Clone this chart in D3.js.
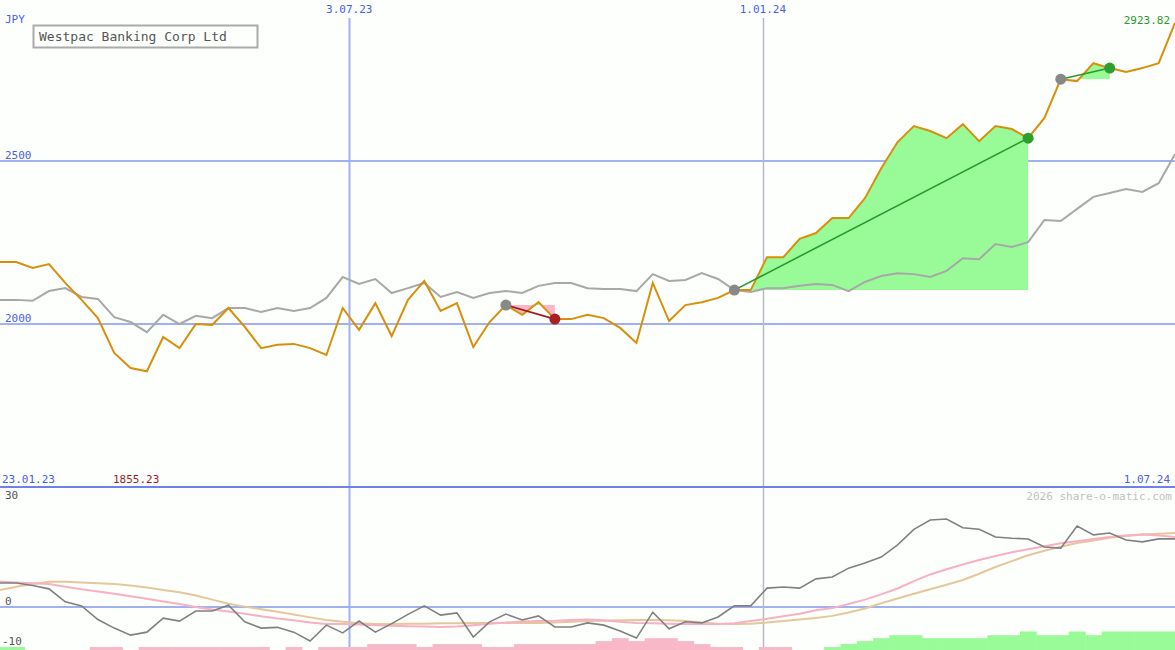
<!DOCTYPE html>
<html><head><meta charset="utf-8">
<script src="https://cdn.jsdelivr.net/npm/d3@7"></script>
<style>body{margin:0;background:#fcfffc}svg{display:block}text{font-family:"DejaVu Sans Mono",monospace;font-size:11px}</style>
</head><body><svg id="c" width="1175" height="650"></svg>
<script>
const price=[2190,2190,2172,2184,2126,2074,2018,1911,1865,1855,1960,1926,2000,1997,2049,1991,1926,1936,1939,1926,1905,2049,1982,2064,1963,2074,2132,2040,2064,1929,2006,2058,2028,2067,2015,2015,2028,2018,1988,1942,2126,2009,2058,2067,2080,2104,2104,2205,2205,2261,2279,2325,2325,2386,2478,2558,2607,2592,2570,2613,2561,2607,2598,2570,2632,2751,2745,2800,2785,2773,2785,2800,2924];
const avg=[2074,2074,2071,2101,2110,2083,2077,2021,2006,1975,2028,2000,2025,2018,2049,2049,2037,2049,2040,2049,2080,2144,2123,2138,2095,2110,2126,2083,2098,2080,2095,2101,2095,2117,2126,2126,2110,2107,2107,2101,2153,2132,2135,2156,2138,2104,2098,2110,2110,2117,2123,2120,2101,2129,2147,2156,2153,2144,2163,2202,2199,2245,2236,2251,2319,2316,2353,2390,2402,2414,2405,2432,2521];
const macd=[6.5,6.5,5.8,4.9,1.4,0.3,-3.4,-5.7,-7.6,-6.8,-3,-3.8,-1.1,-1.1,0.5,-4,-5.7,-5.5,-6.8,-9.2,-4.9,-7,-3.8,-6.8,-4.5,-2,0.3,-2.2,-1.6,-8.1,-4,-1.9,-3.5,-2.4,-5.4,-5.4,-4.3,-4.9,-6.5,-8.4,-1.4,-5.9,-4,-4.3,-2.7,0.3,0.3,5.1,5.4,5.1,7.6,8.1,10.5,11.9,13.5,16.8,21,23.5,23.8,21.4,21,18.9,18.6,18.4,16.2,15.9,21.9,19.5,20,18.1,17.6,18.4,18.4];
const signal=[6.8,6.6,6.4,6.2,5.5,4.8,4.2,3.6,2.9,2.2,1.5,0.8,0,-0.7,-1.2,-1.8,-2.5,-3.1,-3.6,-4.2,-4.6,-4.6,-4.7,-4.9,-5.1,-5.2,-5.3,-5.4,-5.3,-4.9,-4.5,-4.2,-3.9,-3.8,-3.7,-3.5,-3.4,-3.6,-4,-4.3,-4.4,-4.5,-4.6,-4.6,-4.6,-4.4,-3.8,-3.2,-2.5,-1.8,-0.9,-0.3,0.8,2,3.4,5,7,8.8,10.2,11.5,12.7,13.8,14.8,15.6,16.4,17.2,17.8,18.4,18.9,19.3,19.6,19.3,18.9];
const slow=[4.6,5.5,6.2,6.8,6.8,6.6,6.4,6.2,5.8,5.3,4.6,4,3.1,2,0.9,0.1,-0.6,-1.3,-2,-2.8,-3.5,-4,-4.4,-4.6,-4.6,-4.5,-4.5,-4.4,-4.4,-4.3,-4.3,-4.3,-4.3,-4.3,-4.2,-4,-3.8,-3.7,-3.6,-3.5,-3.5,-3.6,-3.8,-4.2,-4.5,-4.6,-4.5,-4.2,-3.8,-3.4,-3,-2.4,-1.5,-0.4,1,2.3,3.6,4.8,6,7.3,9,10.8,12.4,14,15.2,16.3,17.3,18,18.7,19.2,19.6,19.8,20];
const hist=[0.8,0.8,0,0,0,0,-0.8,-0.8,0,-0.8,-0.8,-0.8,-0.8,-0.8,-0.8,-0.8,-0.8,0,-0.8,0,-0.8,-0.8,-0.8,-1.6,-1.6,-1.6,-0.8,-1.6,-1.6,-1.6,-0.8,-0.8,-1.6,-1.6,-1.6,-1.6,-1.6,-2.4,-3.2,-2.4,-3.2,-3.2,-2.4,-1.6,-0.8,-0.8,0,-0.8,-0.8,0,0,0.8,1.6,2.4,3.2,4,4,3.2,3.2,3.2,3.2,4,4,5,4,4,5,4,5,5,5,5,5];
const trades=[{from:31,to:34,win:false},{from:45,to:63,win:true},{from:65,to:68,win:true}];
const priceTicks=[2000,2500];
const dateTicks=[{i:21.4,label:"3.07.23",c:"#a0b0f0"},{i:46.75,label:"1.01.24",c:"#b8b8c8"}];
const title="Westpac Banking Corp Ltd";

const svg=d3.select("#c");
const W=1175;
const x=d3.scaleLinear().domain([0,price.length-1]).range([0,W]);
const y=d3.scaleLinear().domain([1500,3000]).range([487,-2]);
const y2=d3.scaleLinear().domain([-10,30]).range([644,496]);
const idx=d3.range(price.length);

priceTicks.forEach(t=>svg.append("line").attr("x1",0).attr("x2",W).attr("y1",y(t)).attr("y2",y(t)).attr("stroke","#a0b0f0").attr("stroke-width",2));
svg.append("line").attr("x1",0).attr("x2",W).attr("y1",y2(0)).attr("y2",y2(0)).attr("stroke","#a0b0f0").attr("stroke-width",2);
dateTicks.forEach(d=>{svg.append("line").attr("x1",Math.round(x(d.i))+0.5).attr("x2",Math.round(x(d.i))+0.5).attr("y1",18).attr("y2",650).attr("stroke",d.c).attr("stroke-width",d.i<30?2:1.5);
 svg.append("text").attr("x",x(d.i)).attr("y",13).attr("text-anchor","middle").attr("fill","#4a5cf0").text(d.label);});
svg.append("line").attr("x1",0).attr("x2",W).attr("y1",487).attr("y2",487).attr("stroke","#7080e8").attr("stroke-width",2);

const hs=3.7;
svg.append("g").selectAll("rect").data(idx.filter(i=>hist[i]!==0)).join("rect")
 .attr("x",i=>x(i)-x(1)/2).attr("width",x(1)+0.5).attr("y",i=>650-Math.abs(hist[i])*hs).attr("height",i=>Math.abs(hist[i])*hs)
 .attr("fill",i=>hist[i]>0?"#98fb98":"#f8b8c8");

const defs=svg.append("defs");
trades.forEach((t,k)=>{
 const e=price[t.from], r=d3.range(t.from,t.to+1);
 const ar=d3.area().x(i=>x(i)).y0(y(e)).y1(i=>y(price[i]));
 defs.append("clipPath").attr("id","a"+k).append("rect").attr("x",0).attr("y",0).attr("width",W).attr("height",y(e));
 defs.append("clipPath").attr("id","b"+k).append("rect").attr("x",0).attr("y",y(e)).attr("width",W).attr("height",650);
 svg.append("path").attr("d",ar(r)).attr("fill","#98fb98").attr("clip-path",`url(#a${k})`);
 svg.append("path").attr("d",ar(r)).attr("fill","#f8b8c8").attr("clip-path",`url(#b${k})`);
});

const ln=(arr,ys)=>d3.line().x(i=>x(i)).y(i=>ys(arr[i]))(idx);
svg.append("path").attr("d",ln(avg,y)).attr("fill","none").attr("stroke","#a8a8a8").attr("stroke-width",2);
svg.append("path").attr("d",ln(price,y)).attr("fill","none").attr("stroke","#d88f0c").attr("stroke-width",2);
svg.append("path").attr("d",ln(slow,y2)).attr("fill","none").attr("stroke","#e4c89c").attr("stroke-width",2);
svg.append("path").attr("d",ln(signal,y2)).attr("fill","none").attr("stroke","#f8b0c4").attr("stroke-width",2);
svg.append("path").attr("d",ln(macd,y2)).attr("fill","none").attr("stroke","#808080").attr("stroke-width",1.6);

trades.forEach(t=>{
 const c=t.win?"#2a9a2a":"#a01c1c";
 svg.append("line").attr("x1",x(t.from)).attr("y1",y(price[t.from])).attr("x2",x(t.to)).attr("y2",y(price[t.to])).attr("stroke",c).attr("stroke-width",1.6);
 svg.append("circle").attr("cx",x(t.from)).attr("cy",y(price[t.from])).attr("r",5.5).attr("fill","#888");
 svg.append("circle").attr("cx",x(t.to)).attr("cy",y(price[t.to])).attr("r",5.5).attr("fill",t.win?"#2e9e2e":"#a82020");
});

const T=(xx,yy,s,c,a)=>svg.append("text").attr("x",xx).attr("y",yy).attr("fill",c).attr("text-anchor",a||"start").text(s);
T(5,23,"JPY","#4a5cf0");
priceTicks.forEach(t=>T(5,y(t)-2,t,"#4a5cf0"));
T(2,483,"23.01.23","#4a5cf0");
T(113,483,"1855.23","#a01c1c");
T(1170,483,"1.07.24","#4a5cf0","end");
T(1170,24,"2923.82","#2a9a2a","end");
T(5,499,"30","#555");T(5,605,"0","#555");T(2,645,"-10","#555");
T(1172,500,"2026 share-o-matic.com","#c0c0c0","end");
svg.append("rect").attr("x",33.5).attr("y",25.5).attr("width",224).attr("height",22).attr("fill","#fcfffc").attr("stroke","#aaa").attr("stroke-width",2);
svg.append("text").attr("x",39).attr("y",41).attr("fill","#555").style("font-size","13px").text(title);
</script></body></html>
